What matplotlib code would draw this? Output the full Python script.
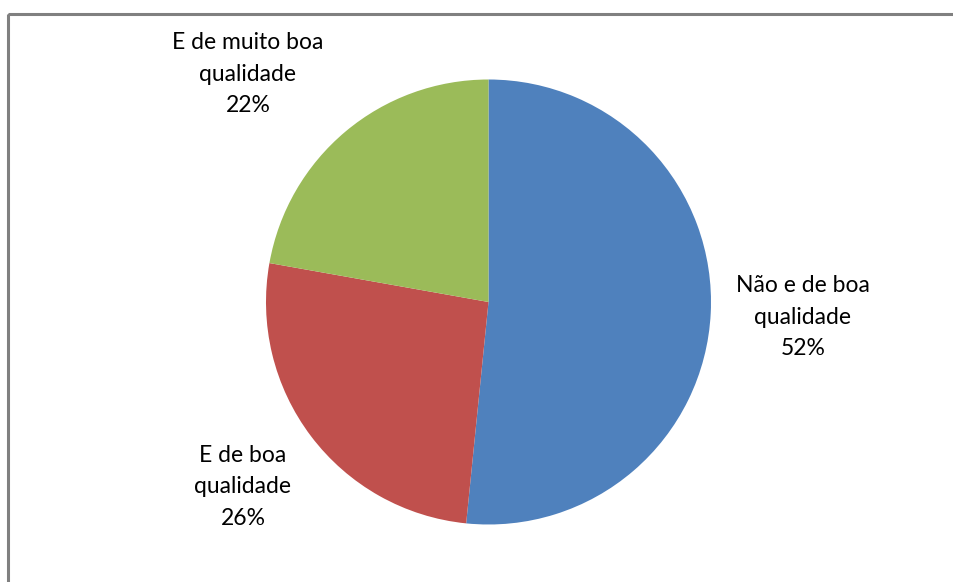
import matplotlib.pyplot as plt
from matplotlib.patches import Rectangle

# Slice data (clockwise from 12 o'clock); shown as rounded percentages
labels = ["Não e de boa\nqualidade", "E de boa\nqualidade", "E de muito boa\nqualidade"]
values = [51.6, 26.2, 22.2]
colors = ["#4F81BD", "#C0504D", "#9BBB59"]

W, H = 954, 582
fig = plt.figure(figsize=(W / 100, H / 100), dpi=100)
ax = fig.add_axes([0, 0, 1, 1])

# chart frame (right and bottom sides cut off by the image)
ax.add_patch(Rectangle((8, 14), W + 20, H + 20, fill=False,
                       edgecolor='#808080', linewidth=2.2, clip_on=False))

cx, cy, r = 488.5, 302, 222.5
# y axis inverted: counterclock=True draws clockwise on screen, start at top
wedges, _ = ax.pie(values, colors=colors, startangle=-90, counterclock=True,
                   center=(cx, cy), radius=r, frame=True,
                   wedgeprops=dict(linewidth=0))
ax.set_xlim(0, W)
ax.set_ylim(H, 0)
ax.set_aspect('equal')
ax.axis('off')

label_pos = [(803, 317), (243, 487), (248, 74)]
for (x, y), lab, v in zip(label_pos, labels, values):
    ax.text(x, y, f"{lab}\n{round(v)}%", ha='center', va='center', fontsize=16.5,
            family='Lato', linespacing=1.64, color='#000000')

fig.savefig('out.png', dpi=100, facecolor='white')
